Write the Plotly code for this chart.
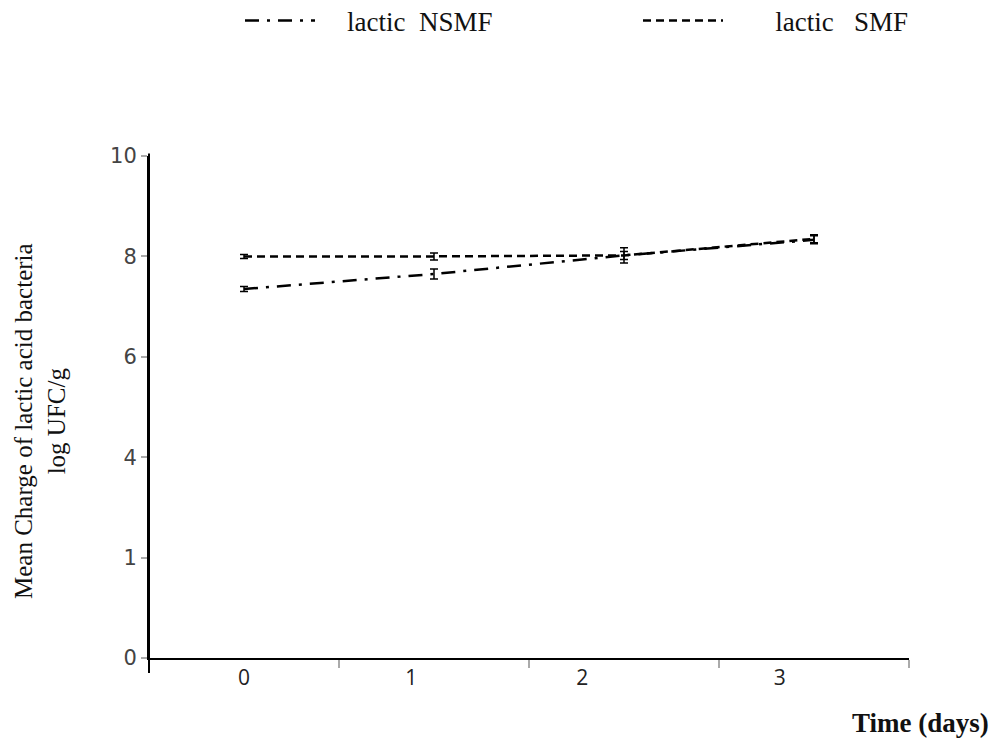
import plotly.graph_objects as go

days = [0, 1, 2, 3]
nsmf = [7.35, 7.65, 8.02, 8.33]
nsmf_err = [0.05, 0.1, 0.08, 0.08]
smf = [8.0, 8.0, 8.02, 8.35]
smf_err = [0.04, 0.07, 0.15, 0.08]
x_labels = ["0", "1", "2", "3"]
x_label_pos = [0.0, 0.88, 1.78, 2.82]
y_tickvals = [0, 2, 4, 6, 8, 10]
y_ticktext = ["0", "1", "4", "6", "8", "10"]

nb = "\u00a0"
fig = go.Figure()
fig.add_trace(go.Scatter(
    x=days, y=nsmf, mode="lines", name=nb * 4 + "lactic" + nb * 2 + "NSMF",
    line=dict(color="black", width=2.5, dash="14px,8px,3px,8px"),
    error_y=dict(type="data", array=nsmf_err, color="black", thickness=1.5, width=4),
    legend="legend",
))
fig.add_trace(go.Scatter(
    x=days, y=smf, mode="lines", name=nb * 7 + "lactic" + nb * 3 + "SMF",
    line=dict(color="black", width=2.5, dash="8px,5px"),
    error_y=dict(type="data", array=smf_err, color="black", thickness=1.5, width=4),
    legend="legend2",
))

serif = "Liberation Serif, Times New Roman, serif"
legfont = dict(family=serif, size=27, color="#111")
fig.update_layout(
    width=1008, height=744,
    margin=dict(l=141, r=107, t=148, b=94, autoexpand=False),
    paper_bgcolor="white", plot_bgcolor="white",
    showlegend=True,
    legend=dict(x=232 / 1008, xref="container", xanchor="left", y=1 - 13 / 744, yref="container",
                yanchor="middle", font=legfont, itemwidth=70, bgcolor="rgba(0,0,0,0)"),
    legend2=dict(x=630 / 1008, xref="container", xanchor="left", y=1 - 13 / 744, yref="container",
                 yanchor="middle", font=legfont, itemwidth=80, bgcolor="rgba(0,0,0,0)"),
    xaxis=dict(range=[-0.5, 3.5], showgrid=False, zeroline=False, automargin=False,
               showline=True, linecolor="black", linewidth=2,
               tickmode="array", tickvals=x_label_pos, ticktext=x_labels,
               ticks="", tickfont=dict(family="Open Sans, DejaVu Sans, sans-serif", size=21, color="#222"),
               minor=dict(tickmode="array", tickvals=[0.5, 1.5, 2.5, 3.5], ticks="outside",
                          ticklen=8, tickcolor="#aaa", tickwidth=1.5, showgrid=False),
               ),
    yaxis=dict(range=[0, 10], showgrid=False, zeroline=False, automargin=False,
               showline=True, linecolor="black", linewidth=2,
               tickmode="array", tickvals=y_tickvals, ticktext=y_ticktext,
               ticks="outside", ticklen=6, tickcolor="#aaa", tickwidth=1.5,
               tickfont=dict(family="DejaVu Sans, Verdana, sans-serif", size=21, color="#444"),
               ),
)
fig.add_shape(type="line", xref="paper", yref="paper", x0=0, x1=0, y0=-0.03, y1=1.005,
              line=dict(color="black", width=2))
fig.add_annotation(text="Mean Charge of lactic acid bacteria<br>log UFC/g",
                   xref="paper", yref="paper", x=(39 - 148) / 760, y=(657 - 420) / 502,
                   xanchor="center", yanchor="middle", textangle=-90, showarrow=False,
                   font=dict(family=serif, size=25, color="#111"))
fig.add_annotation(text="<b>Time (days)</b>", xref="paper", yref="paper",
                   x=(919 - 148) / 760, y=-0.13, xanchor="center", yanchor="middle", showarrow=False,
                   font=dict(family=serif, size=27, color="#111"))
fig.write_html("out.html")
